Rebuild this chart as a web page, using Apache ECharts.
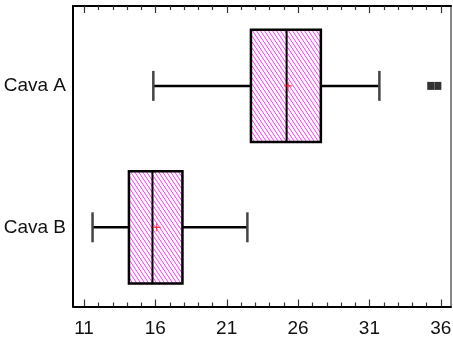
<!DOCTYPE html>
<html>
<head>
<meta charset="utf-8">
<script src="https://cdn.jsdelivr.net/npm/echarts@6/dist/echarts.min.js"></script>
<style>
  html, body { margin: 0; padding: 0; background: #fff; }
  #main { width: 453px; height: 340px; }
</style>
</head>
<body>
<div id="main"></div>
<script>
// Groups shown on the vertical axis, top to bottom
const categories = ['Cava A', 'Cava B'];
// Five-number summaries per group: [lower whisker, Q1, median, Q3, upper whisker]
const boxValues = [
  [15.86, 22.7, 25.2, 27.6, 31.7],
  [11.6, 14.15, 15.8, 17.9, 22.45]
];
// Group means (drawn as a small cross)
const means = [25.3, 16.1];
// Outlying observations: [value, group]
const outliers = [
  [35.3, 'Cava A'],
  [35.8, 'Cava A']
];
// Axis ticks
const majorTicks = [11, 16, 21, 26, 31, 36];
const minorTicks = [11, 12, 13, 14, 15, 16, 17, 18, 19, 20, 21, 22, 23, 24, 25,
                    26, 27, 28, 29, 30, 31, 32, 33, 34, 35, 36];

const X_MIN = 10.23, X_MAX = 36.72;
const Y_MIN = 0.435, Y_MAX = 2.56;
const LABEL_FONT = "'Liberation Sans', Arial, sans-serif";

// Diagonal magenta hatching used to fill the boxes
function makeHatch() {
  const c = document.createElement('canvas');
  c.width = 4; c.height = 6;
  const g = c.getContext('2d');
  g.strokeStyle = '#ff33ff';
  g.lineWidth = 1;
  g.beginPath();
  g.moveTo(-1, -1.5); g.lineTo(5, 7.5);
  g.moveTo(-5, -1.5); g.lineTo(1, 7.5);
  g.moveTo(3, -1.5); g.lineTo(9, 7.5);
  g.stroke();
  return c;
}
const hatch = makeHatch();

const boxData = boxValues.map((b, i) => [i + 1, b[0], b[1], b[2], b[3], b[4], means[i]]);
const outlierData = outliers.map(o => [o[0], categories.indexOf(o[1]) + 1]);
// tick marks along the top and bottom frame: [value, isMajor]
const tickData = minorTicks.map(v => [v, majorTicks.indexOf(v) >= 0 ? 1 : 0]);

const segment = (a, b, stroke, w) => ({
  type: 'line',
  shape: { x1: a[0], y1: a[1], x2: b[0], y2: b[1] },
  style: { stroke: stroke, lineWidth: w }
});

function renderBox(params, api) {
  const pos = api.value(0);
  const lo = api.value(1), q1 = api.value(2), med = api.value(3);
  const q3 = api.value(4), hi = api.value(5), mean = api.value(6);
  const half = 0.397, capHalf = 0.106;
  const p = (x, y) => api.coord([x, y]);
  const tl = p(q1, pos - half), br = p(q3, pos + half);
  const c = p(lo, pos), cHi = p(hi, pos);
  const cq1 = p(q1, pos), cq3 = p(q3, pos);
  const mT = p(med, pos - half), mB = p(med, pos + half);
  const mc = p(mean, pos);
  return {
    type: 'group',
    children: [
      segment(c, cq1, '#000', 2.5),
      segment(cq3, cHi, '#000', 2.5),
      segment(p(lo, pos - capHalf), p(lo, pos + capHalf), '#444', 2.5),
      segment(p(hi, pos - capHalf), p(hi, pos + capHalf), '#444', 2.5),
      {
        type: 'rect',
        shape: { x: tl[0], y: tl[1], width: br[0] - tl[0], height: br[1] - tl[1] },
        style: { fill: { type: 'pattern', image: hatch, repeat: 'repeat' }, stroke: '#000', lineWidth: 2.5 }
      },
      segment(mT, mB, '#000', 2),
      segment([mc[0] - 4, mc[1]], [mc[0] + 4, mc[1]], '#ff2020', 1),
      segment([mc[0], mc[1] - 4], [mc[0], mc[1] + 4], '#ff2020', 1)
    ]
  };
}

// inward tick marks on the bottom and top edges of the frame, snapped to whole pixels
function renderTick(params, api) {
  const len = api.value(1) ? 7 : 4;
  const b = api.coord([api.value(0), Y_MAX]);
  const t = api.coord([api.value(0), Y_MIN]);
  const x = Math.round(b[0]) + 0.5;
  return {
    type: 'group',
    children: [
      segment([x, b[1]], [x, b[1] - len], '#333', 1.2),
      segment([x, t[1]], [x, t[1] + len], '#333', 1.2)
    ]
  };
}

const chart = echarts.init(document.getElementById('main'), null, { renderer: 'canvas' });
chart.setOption({
  animation: false,
  backgroundColor: '#fff',
  grid: { left: 73, right: 2, top: 6, bottom: 33.5, outerBoundsMode: 'none' },
  xAxis: [
    {
      type: 'value', min: X_MIN, max: X_MAX, position: 'bottom',
      splitLine: { show: false },
      axisLine: { show: true, onZero: false, lineStyle: { color: '#000', width: 2 } },
      axisTick: { show: false },
      axisLabel: { show: true, customValues: majorTicks, margin: 13, fontSize: 19, fontFamily: LABEL_FONT, color: '#111' }
    },
    {
      type: 'value', min: X_MIN, max: X_MAX, position: 'top',
      splitLine: { show: false },
      axisLine: { show: true, onZero: false, lineStyle: { color: '#000', width: 2 } },
      axisTick: { show: false },
      axisLabel: { show: false }
    }
  ],
  yAxis: [
    {
      type: 'value', inverse: true, min: Y_MIN, max: Y_MAX, position: 'left',
      splitLine: { show: false },
      axisLine: { show: true, onZero: false, lineStyle: { color: '#000', width: 2 } },
      axisTick: { show: false },
      axisLabel: {
        show: true, customValues: [1, 2], margin: 7, fontSize: 19, fontFamily: LABEL_FONT, color: '#111',
        formatter: v => categories[Math.round(v) - 1]
      }
    },
    {
      type: 'value', inverse: true, min: Y_MIN, max: Y_MAX, position: 'right',
      splitLine: { show: false },
      axisLine: { show: true, onZero: false, lineStyle: { color: '#888', width: 2 } },
      axisTick: { show: false },
      axisLabel: { show: false }
    }
  ],
  series: [
    {
      type: 'custom',
      xAxisIndex: 0, yAxisIndex: 0,
      renderItem: renderTick,
      encode: { x: 0 },
      data: tickData,
      clip: false,
      silent: true
    },
    {
      type: 'custom',
      xAxisIndex: 0, yAxisIndex: 0,
      renderItem: renderBox,
      encode: { x: [1, 2, 3, 4, 5, 6], y: 0 },
      data: boxData,
      clip: false
    },
    {
      type: 'scatter',
      xAxisIndex: 0, yAxisIndex: 0,
      symbol: 'rect', symbolSize: [7, 8],
      itemStyle: { color: '#000' },
      data: outlierData
    }
  ]
});
</script>
</body>
</html>
